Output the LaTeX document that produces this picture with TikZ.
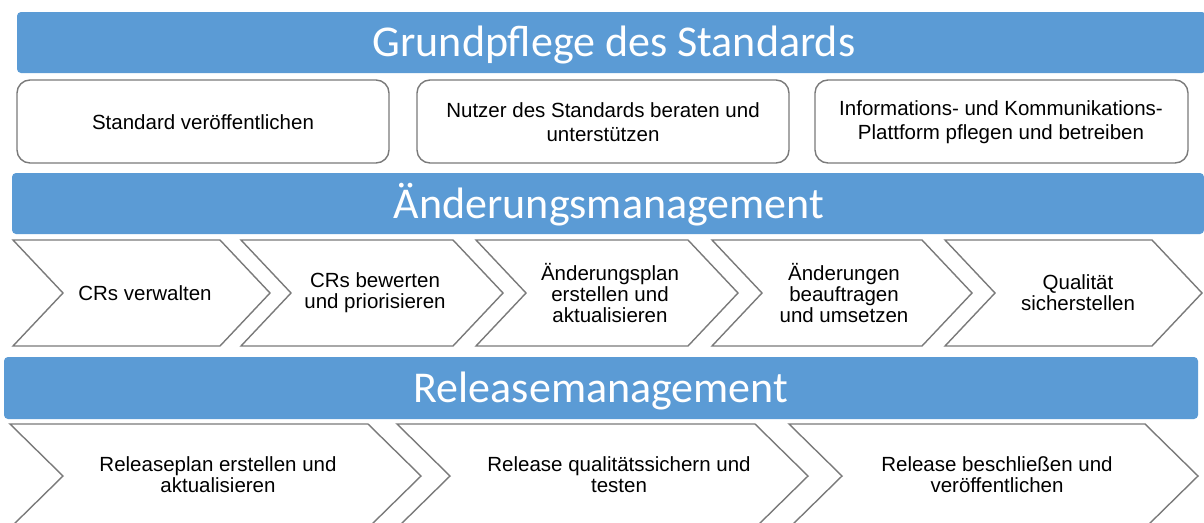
\documentclass[tikz,border=0pt]{standalone}
\usepackage{fontspec}
\setmainfont{Liberation Sans}
\newfontfamily\titlefont{Carlito}
\definecolor{barblue}{HTML}{5B9BD5}
\definecolor{edgegray}{HTML}{7A7A7A}
\tikzset{
  bar/.style={fill=barblue, draw=none, rounded corners=4pt},
  bartext/.style={text=white, font=\titlefont\fontsize{44}{50}\selectfont, inner sep=0pt, text height=28pt, text depth=0pt},
  taskbox/.style={draw=edgegray, line width=1.4pt, fill=white, rounded corners=13pt},
  chevshape/.style={draw=edgegray, line width=1.4pt, fill=white, line join=miter},
  boxtext/.style={align=center, font=\fontsize{20.5}{24}\selectfont, inner sep=0pt},
  chevtext/.style={align=center, font=\fontsize{20.5}{21}\selectfont, inner sep=0pt},
}
\newcommand\mychev[6]{% name, left, tip, top, bottom, depth
  \draw[chevshape] (#2,#4) -- ({#3-#6},#4) -- (#3,{(#4+#5)/2}) -- ({#3-#6},#5) -- (#2,#5) -- ({#2+#6},{(#4+#5)/2}) -- cycle;
  \coordinate (#1) at ({(#2+#3)/2},{(#4+#5)/2});
}
\begin{document}
\begin{tikzpicture}[x=1pt,y=-1pt]
\useasboundingbox (0,0) rectangle (1204,522);
\clip (0,0) rectangle (1204,522);
\fill[white] (0,0) rectangle (1204,522);

% bar 1
\fill[bar] (17,12) rectangle (1206,73);
\node[bartext] (t1) at (614,42) {Grundpflege des Standards};

% rounded boxes
\draw[taskbox] (17,80) rectangle (389,163);
\draw[taskbox] (417,80) rectangle (789,163);
\draw[taskbox] (815,80) rectangle (1188,163);
\node[boxtext] (b1) at (203,122) {Standard veröffentlichen};
\node[boxtext] (b2) at (603,122) {Nutzer des Standards beraten und\\unterstützen};
\node[boxtext] (b3) at (1001,122) {Informations- und Kommunikations-\\Plattform pflegen und betreiben};

% bar 2
\fill[bar] (12,173) rectangle (1204,234);
\node[bartext] (t2) at (609,204) {Änderungsmanagement};

% chevrons row 1
\mychev{c1}{13}{270}{240}{346}{50}
\mychev{c2}{241}{503}{240}{346}{50}
\mychev{c3}{476}{738}{240}{346}{50}
\mychev{c4}{712}{972}{240}{346}{50}
\mychev{c5}{945}{1202}{240}{346}{50}
\node[chevtext] (ct1) at (145,293) {CRs verwalten};
\node[chevtext] (ct2) at (375,293) {CRs bewerten\\und priorisieren};
\node[chevtext] (ct3) at (610,293) {Änderungsplan\\erstellen und\\aktualisieren};
\node[chevtext] (ct4) at (844,293) {Änderungen\\beauftragen\\und umsetzen};
\node[chevtext] (ct5) at (1078,293) {Qualität\\sicherstellen};

% bar 3
\fill[bar] (4,357) rectangle (1198,419);
\node[bartext] (t3) at (601,388) {Releasemanagement};

% chevrons row 2
\mychev{r1}{10}{421}{424}{528}{53}
\mychev{r2}{397}{808}{424}{528}{53}
\mychev{r3}{789}{1198}{424}{528}{53}
\node[chevtext] (rt1) at (218,475) {Releaseplan erstellen und\\aktualisieren};
\node[chevtext] (rt2) at (619,475) {Release qualitätssichern und\\testen};
\node[chevtext] (rt3) at (997,475) {Release beschließen und\\veröffentlichen};
\end{tikzpicture}
\end{document}
